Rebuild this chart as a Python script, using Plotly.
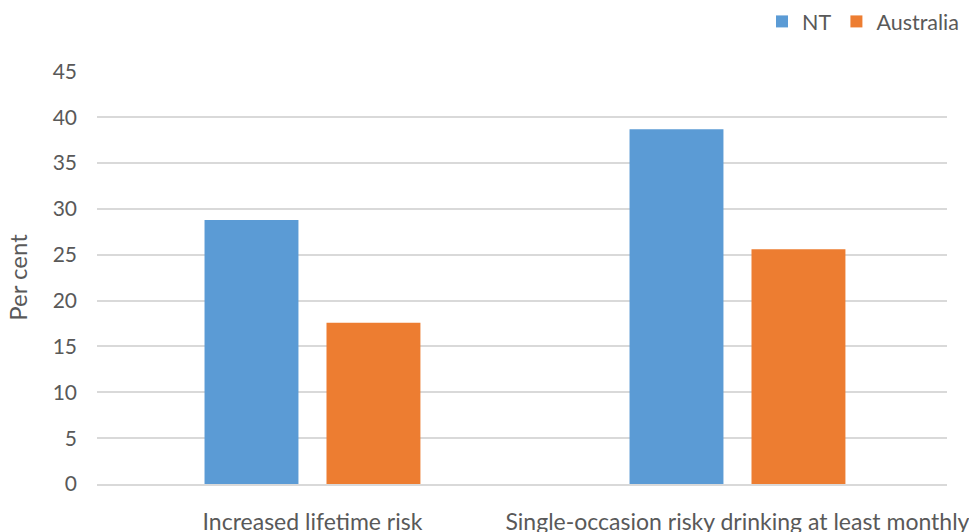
import plotly.graph_objects as go

categories = ["Increased lifetime risk", "Single-occasion risky drinking at least monthly"]
nt_values = [28.8, 38.7]
australia_values = [17.6, 25.6]
y_ticks = [0, 5, 10, 15, 20, 25, 30, 35, 40, 45]

FONT = "Lato, 'Open Sans', sans-serif"
TEXT = "#595959"
GRID = "#d9d9d9"

fig = go.Figure()
fig.add_trace(go.Bar(name="NT", x=categories, y=nt_values,
                     marker=dict(color="#5b9bd5", line=dict(width=0))))
fig.add_trace(go.Bar(name="Australia", x=categories, y=australia_values,
                     marker=dict(color="#ed7d31", line=dict(width=0))))

fig.update_layout(
    width=969, height=532,
    margin=dict(l=97, r=22, t=71, b=48, autoexpand=False),
    paper_bgcolor="white", plot_bgcolor="white",
    barmode="group", bargap=0.426, bargroupgap=0.23,
    font=dict(family=FONT, color=TEXT, size=20),
    legend=dict(orientation="h", x=1.02, xanchor="right", y=1.12, yanchor="middle",
                font=dict(size=21.5, color=TEXT), traceorder="normal",
                itemwidth=30, bgcolor="rgba(0,0,0,0)"),
    xaxis=dict(showgrid=False, showline=True, linecolor=GRID, linewidth=1.5,
               ticks="", tickfont=dict(size=23, color=TEXT),
               range=[-0.507, 1.493], ticklabelstandoff=17),
    yaxis=dict(range=[0, 45.05], tickvals=y_ticks, showgrid=True, gridcolor=GRID,
               gridwidth=1.5, zeroline=False, showline=False, ticks="",
               tickfont=dict(size=21, color=TEXT), ticklabelstandoff=19,
               title=dict(text="Per cent", font=dict(size=24, color=TEXT), standoff=18)),
)

fig.write_html("out.html")
